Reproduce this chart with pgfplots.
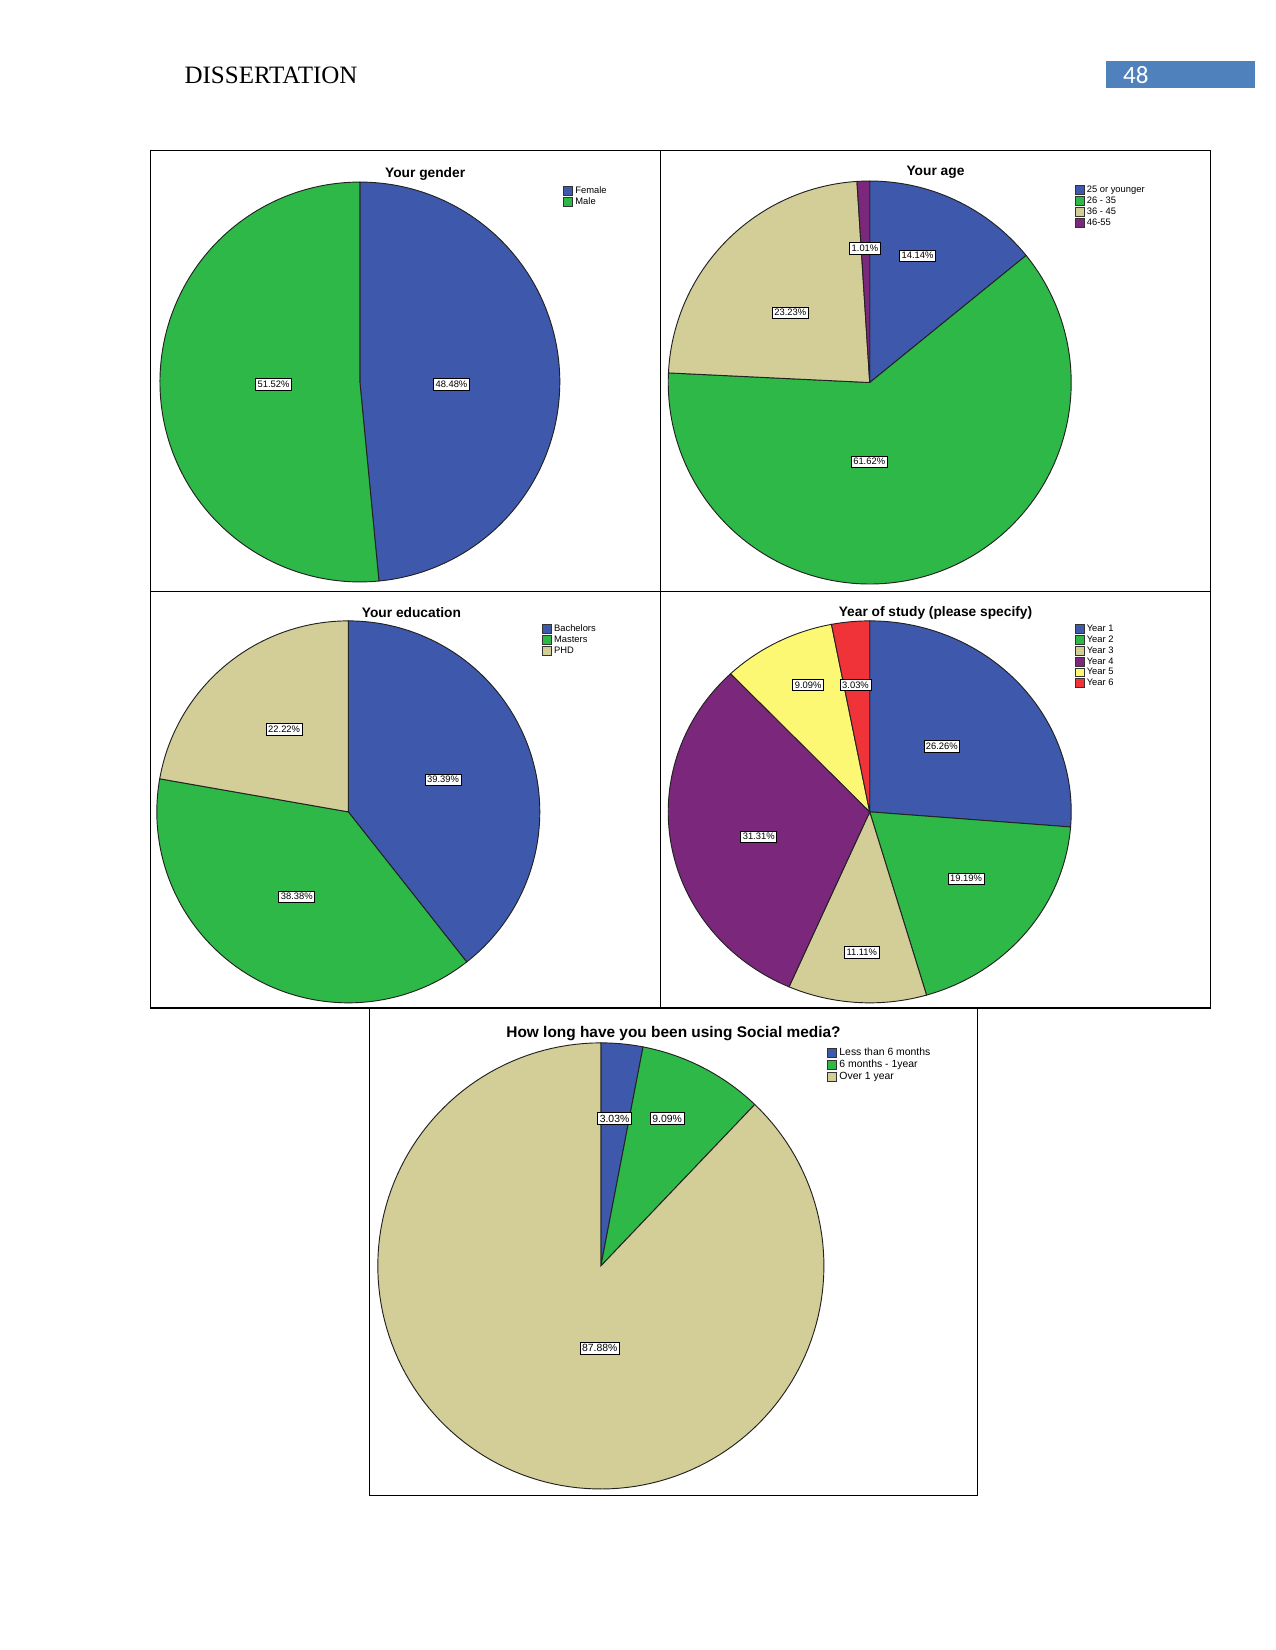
\documentclass[border=0pt]{standalone}
\usepackage{fontspec}
\setmainfont{Liberation Serif}
\newfontfamily\arial{Liberation Sans}
\newfontfamily\calibri{Carlito}
\usepackage{pgfplots}
\pgfplotsset{compat=1.18}
\definecolor{sblue}{HTML}{3E58AC}
\definecolor{sgreen}{HTML}{2EB848}
\definecolor{stan}{HTML}{D3CE97}
\definecolor{spurple}{HTML}{7B277B}
\definecolor{syellow}{HTML}{FCF874}
\definecolor{sred}{HTML}{EF3338}
\definecolor{edge}{HTML}{222222}
\definecolor{pageblue}{HTML}{4F81BD}
% slice: cumulative start %, cumulative end %, colour, legend text
\newcommand{\slice}[4]{%
  \addplot[fill=#3, draw=edge, line width=0.45bp, domain=90-3.6*#2:90-3.6*#1, samples=150]
    ({cos(x)},{sin(x)}) -- (axis cs:0,0) -- cycle;
  \addlegendentry{#4}}
\pgfplotsset{pie/.style={scale only axis, xmin=-1, xmax=1, ymin=-1, ymax=1,
  hide axis, clip=false, anchor=center,
  legend cell align=left,
  legend style={draw=none, fill=none, anchor=north west, inner sep=0pt,
    font=\arial\fontsize{4.5bp}{5bp}\selectfont, row sep=0pt,
    nodes={inner sep=0.5bp, text height=3.3bp, text depth=0.9bp},
    /tikz/every odd column/.append style={column sep=0.6bp}},
  legend image code/.code={\draw[##1, line width=0.35bp, draw=black!80] (0bp,-2.1bp) rectangle (4.3bp,2.1bp);}}}
\tikzset{lab/.style={draw=black, fill=white, line width=0.3bp, inner sep=1bp,
  font=\arial\fontsize{4.5bp}{5bp}\selectfont, text height=3.2bp, text depth=0.3bp},
  ttl/.style={font=\arial\bfseries\fontsize{6.6bp}{8bp}\selectfont}}
\begin{document}
\begin{tikzpicture}[x=0.505bp, y=-0.505bp]
\path[use as bounding box] (0,0) rectangle (1212,1568);
% page header
\node[anchor=base west, font=\fontsize{12bp}{14bp}\selectfont, inner sep=0] at (175,79) {DISSERTATION};
\fill[pageblue] (1051,58) rectangle (1193,84);
\node[text=white, font=\calibri\fontsize{12bp}{14bp}\selectfont, anchor=base west, inner sep=0] at (1067,79) {48};
% frames
\draw[line width=0.6bp] (143,143) rectangle (1150,562);
\draw[line width=0.6bp] (143,562) rectangle (1150,958);
\draw[line width=0.6bp] (628,143) -- (628,958);
\draw[line width=0.6bp] (351,958) rectangle (929,1421);
\coordinate (cA) at (342,363);
\coordinate (cB) at (826.5,363.5);
\coordinate (cC) at (331,771.5);
\coordinate (cD) at (826.5,771.5);
\coordinate (cE) at (571,1203);
% A: gender
\begin{axis}[pie, at={(cA)}, width=191.9bp, height=191.9bp,
  legend style={at={(axis description cs:1.008,0.992)}}]
\slice{0}{48.48}{sblue}{Female}
\slice{48.48}{100}{sgreen}{Male}
\end{axis}
% B: age
\begin{axis}[pie, at={(cB)}, width=193.4bp, height=193.4bp,
  legend style={at={(axis description cs:1.008,0.992)}}]
\slice{0}{14.14}{sblue}{25 or younger}
\slice{14.14}{75.76}{sgreen}{26 - 35}
\slice{75.76}{98.99}{stan}{36 - 45}
\slice{98.99}{100}{spurple}{46-55}
\end{axis}
% C: education
\begin{axis}[pie, at={(cC)}, width=183.8bp, height=183.3bp,
  legend style={at={(axis description cs:1.005,0.994)}}]
\slice{0}{39.39}{sblue}{Bachelors}
\slice{39.39}{77.77}{sgreen}{Masters}
\slice{77.77}{100}{stan}{PHD}
\end{axis}
% D: year of study
\begin{axis}[pie, at={(cD)}, width=193.4bp, height=183.3bp,
  legend style={at={(axis description cs:1.008,0.994)}}]
\slice{0}{26.26}{sblue}{Year 1}
\slice{26.26}{45.45}{sgreen}{Year 2}
\slice{45.45}{56.56}{stan}{Year 3}
\slice{56.56}{87.87}{spurple}{Year 4}
\slice{87.87}{96.96}{syellow}{Year 5}
\slice{96.96}{100}{sred}{Year 6}
\end{axis}
% E: social media
\begin{axis}[pie, at={(cE)}, width=214.1bp, height=214.1bp,
  legend style={at={(axis description cs:1.007,0.993)},
    font=\arial\fontsize{5bp}{6bp}\selectfont,
    nodes={inner sep=0.5bp, text height=3.8bp, text depth=1.1bp}}]
\slice{0}{3.03}{sblue}{Less than 6 months}
\slice{3.03}{12.12}{sgreen}{6 months - 1year}
\slice{12.12}{100}{stan}{Over 1 year}
\end{axis}
% titles
\node[ttl] at (404,165) {Your gender};
\node[ttl] at (889,164) {Your age};
\node[ttl] at (391,582) {Your education};
\node[ttl] at (889,582) {Year of study (please specify)};
\node[ttl, font=\arial\bfseries\fontsize{7.4bp}{9bp}\selectfont] at (640,982) {How long have you been using Social media?};
% value labels
\node[lab] at (260,365) {51.52\%};
\node[lab] at (429,365) {48.48\%};
\node[lab] at (822,236) {1.01\%};
\node[lab] at (872,243) {14.14\%};
\node[lab] at (751,297) {23.23\%};
\node[lab] at (826,439) {61.62\%};
\node[lab] at (270,693) {22.22\%};
\node[lab] at (421,741) {39.39\%};
\node[lab] at (282,852) {38.38\%};
\node[lab] at (768,651) {9.09\%};
\node[lab] at (813,651) {3.03\%};
\node[lab] at (895,709) {26.26\%};
\node[lab] at (918,835) {19.19\%};
\node[lab] at (819,905) {11.11\%};
\node[lab] at (721,795) {31.31\%};
\node[lab, font=\arial\fontsize{5bp}{6bp}\selectfont, text height=3.6bp] at (584,1063) {3.03\%};
\node[lab, font=\arial\fontsize{5bp}{6bp}\selectfont, text height=3.6bp] at (634,1063) {9.09\%};
\node[lab, font=\arial\fontsize{5bp}{6bp}\selectfont, text height=3.6bp] at (570,1281) {87.88\%};
\end{tikzpicture}
\end{document}
